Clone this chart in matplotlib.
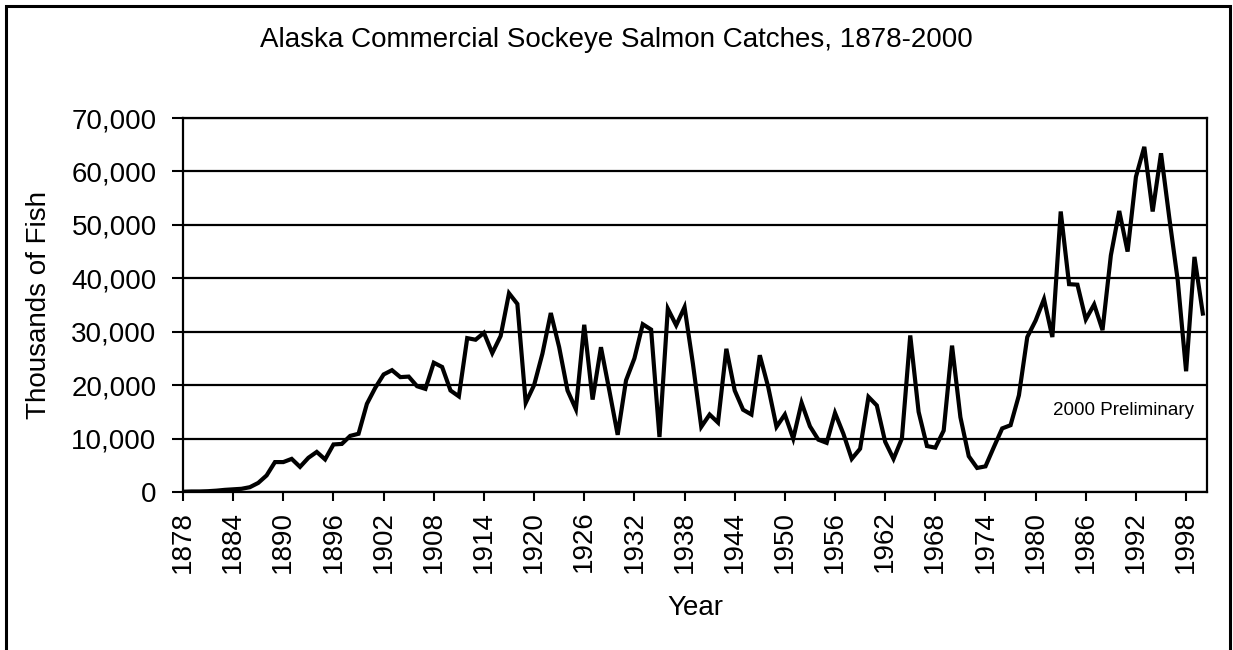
import numpy as np
import matplotlib
matplotlib.use('Agg')
import matplotlib.pyplot as plt
from matplotlib import ticker
from matplotlib.patches import Rectangle

plt.rcParams['font.family'] = ['Liberation Sans', 'DejaVu Sans']

years = np.arange(1878, 2001)
catch = [
    50, 100, 100, 150, 250, 400, 500, 600, 900, 1700,                   # 1878-1887
    3100, 5600, 5600, 6200, 4700, 6400, 7500, 6100, 8900, 9000,          # 1888-1897
    10500, 10900, 16500, 19500, 22000, 22800, 21500, 21600, 19800, 19300,  # 1898-1907
    24200, 23400, 19000, 17900, 28800, 28500, 29800, 26000, 29200, 37200,  # 1908-1917
    35200, 16700, 20000, 25900, 33500, 27100, 19000, 15500, 31300, 17300,  # 1918-1927
    27100, 19000, 10700, 20900, 25000, 31400, 30400, 10300, 34300, 31200,  # 1928-1937
    34600, 24000, 12200, 14500, 13000, 26800, 19000, 15400, 14500, 25600,  # 1938-1947
    19700, 12200, 14500, 10000, 16700, 12300, 9800, 9200, 14800, 10900,    # 1948-1957
    6200, 8100, 17800, 16200, 9400, 6200, 10000, 29300, 15000, 8600,       # 1958-1967
    8300, 11500, 27400, 14000, 6700, 4500, 4800, 8400, 11900, 12500,       # 1968-1977
    18100, 29000, 32100, 36100, 29000, 52500, 38900, 38800, 32300, 35100,  # 1978-1987
    30300, 44300, 52600, 45000, 59000, 64600, 52500, 63400, 51200, 39600,  # 1988-1997
    22600, 44000, 33400,                                                   # 1998-2000
]
tick_years = np.arange(1878, 2000, 6)
y_ticks = np.arange(0, 70001, 10000)

W, H = 1233, 650
fig = plt.figure(figsize=(W / 100, H / 100), dpi=100)
ax = fig.add_axes([183 / W, 158 / H, (1207 - 183) / W, (492 - 118) / H])

ax.plot(years, catch, color='black', lw=3.0, solid_joinstyle='miter')

ax.set_xlim(1878, 2000.5)
ax.set_ylim(0, 70000)
ax.set_yticks(y_ticks)
ax.yaxis.set_major_formatter(ticker.FuncFormatter(lambda v, p: '{:,}'.format(int(v))))
ax.set_xticks(tick_years)
ax.set_xticklabels([str(y) for y in tick_years], rotation=90)
ax.grid(axis='y', color='black', lw=1.6)
ax.set_axisbelow(True)
for s in ax.spines.values():
    s.set_linewidth(1.6)
    s.set_color('black')
ax.tick_params(axis='y', length=8, width=1.5, pad=11, labelsize=20)
ax.tick_params(axis='x', length=6.5, width=1.5, pad=7, labelsize=20)

ax.set_xlabel('Year', fontsize=20, va='center')
ax.xaxis.set_label_coords(0.5, (492 - 608) / 374)
ax.set_ylabel('Thousands of Fish', fontsize=20, va='center')
ax.yaxis.set_label_coords((39 - 183) / 1024, 0.5)

ax.text(1999, 14400, '2000 Preliminary', fontsize=13.5, ha='right', va='baseline')

fig.text(0.5, 1 - 40 / H, 'Alaska Commercial Sockeye Salmon Catches, 1878-2000',
         fontsize=20, ha='center', va='center')

fig.patches.append(Rectangle((6 / W, -0.05), (1230 - 6) / W, 1 - 6 / H + 0.05,
                             transform=fig.transFigure, fill=False,
                             edgecolor='black', lw=2.2))

fig.savefig('out.png', dpi=100)
